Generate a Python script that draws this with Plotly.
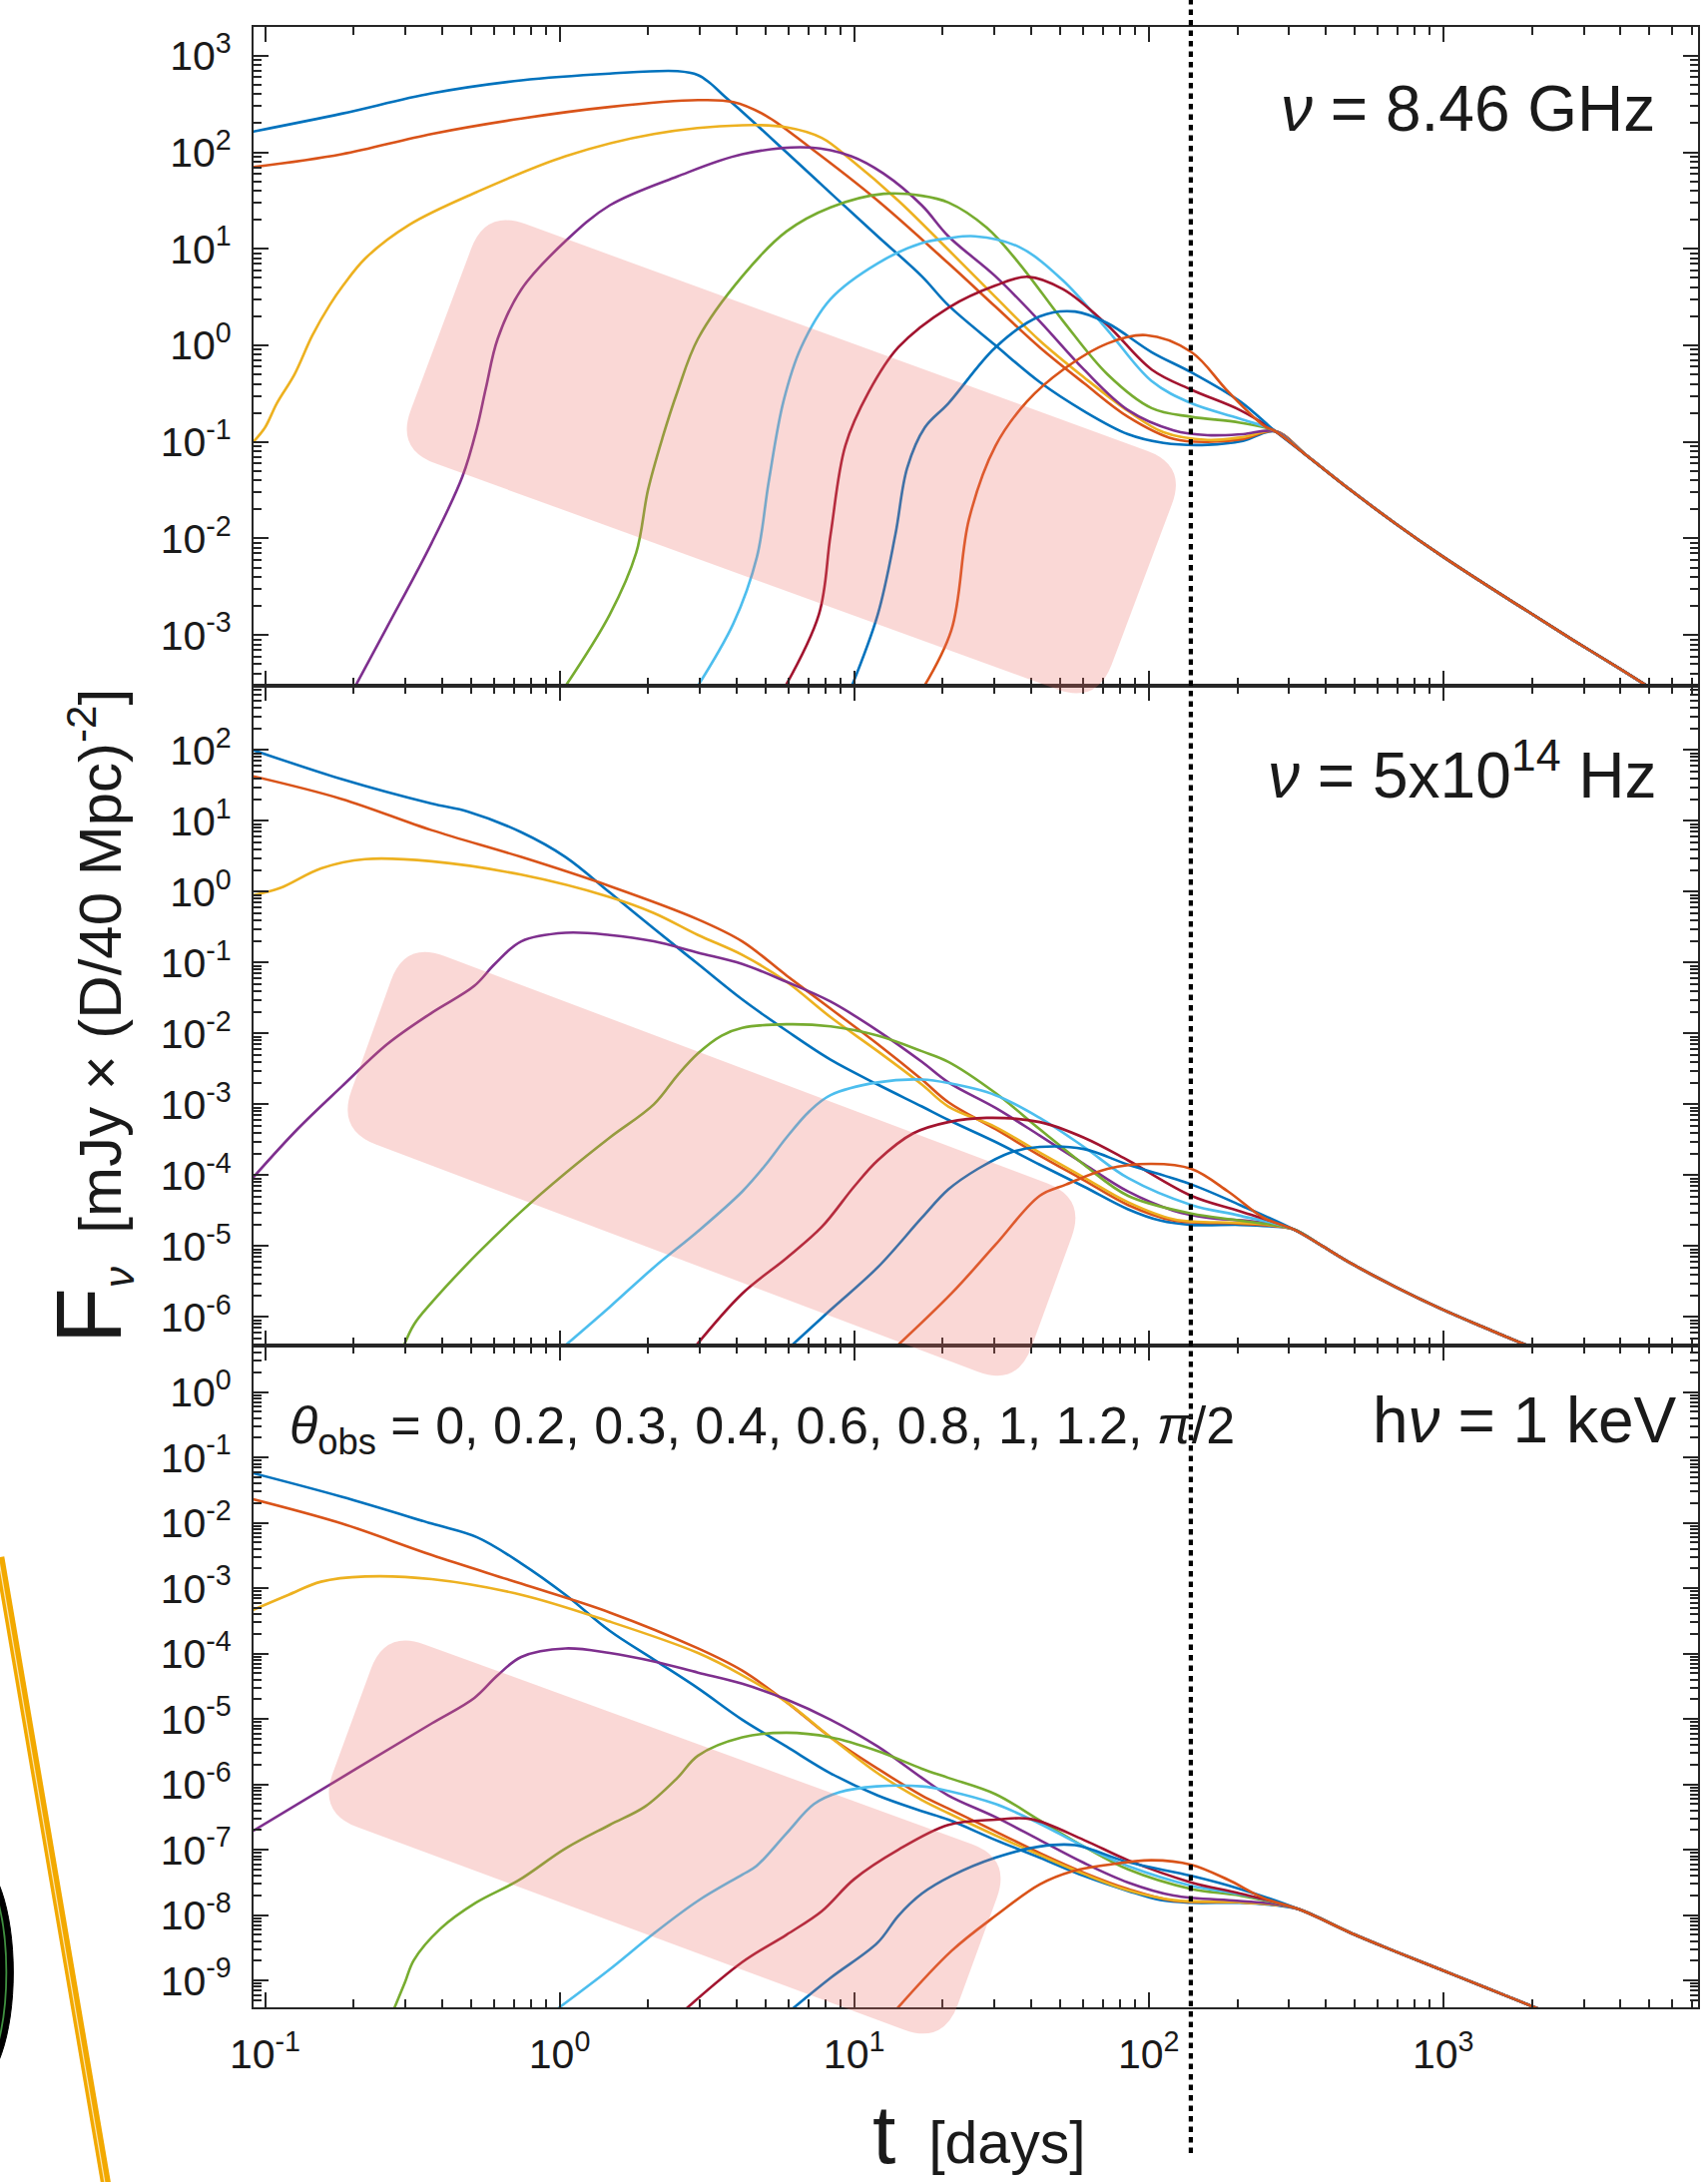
import numpy as np
import plotly.graph_objects as go
from plotly.subplots import make_subplots

# ---------------------------------------------------------------------------
# Observer angles and line colours (MATLAB default colour order, cycling)
# ---------------------------------------------------------------------------
THETA_OBS = ["0", "0.2", "0.3", "0.4", "0.6", "0.8", "1", "1.2", "π/2"]
LINE_COLORS = ["#0072BD", "#D95319", "#EDB120", "#7E2F8E", "#77AC30",
               "#4DBEEE", "#A2142F", "#0072BD", "#D95319"]

# ---------------------------------------------------------------------------
# Light curves, points are (log10 t [days], log10 F_nu [mJy (D/40 Mpc)^-2])
# ---------------------------------------------------------------------------
# nu = 8.46 GHz
RADIO_TH0 = [(-1.04, 2.215), (-0.74, 2.40), (-0.435, 2.61), (-0.13, 2.745), (0.17, 2.815),
             (0.40, 2.84), (0.47, 2.80), (0.51, 2.72), (0.56, 2.58), (0.62, 2.42), (0.77, 2.0),
             (0.93, 1.55), (1.08, 1.13), (1.23, 0.715), (1.32, 0.415), (1.48, 0.0),
             (1.63, -0.38), (1.78, -0.68), (1.93, -0.92), (2.05, -1.01), (2.2, -1.03), (2.32, -0.99)]
RADIO_TH1 = [(-1.04, 1.846), (-0.74, 1.98), (-0.435, 2.19), (-0.13, 2.35), (0.17, 2.47),
             (0.47, 2.54), (0.59, 2.52), (0.70, 2.38), (0.85, 2.05), (1.08, 1.5), (1.32, 0.85),
             (1.48, 0.4), (1.63, -0.02), (1.78, -0.39), (1.93, -0.74), (2.085, -0.97),
             (2.2, -1.0), (2.32, -0.97)]
RADIO_TH2 = [(-1.04, -1.0), (-1.0, -0.85), (-0.96, -0.6), (-0.90, -0.3), (-0.84, 0.1),
             (-0.78, 0.42), (-0.735, 0.62), (-0.66, 0.9), (-0.51, 1.25), (-0.28, 1.59),
             (0.02, 1.96), (0.32, 2.19), (0.62, 2.28), (0.77, 2.26), (0.89, 2.15), (0.99, 1.92),
             (1.15, 1.5), (1.32, 0.99), (1.48, 0.5), (1.63, 0.05), (1.78, -0.33), (1.93, -0.68),
             (2.05, -0.9), (2.2, -0.98), (2.32, -0.95)]
RADIO_TH3 = [(-0.72, -3.68), (-0.586, -2.92), (-0.435, -2.05), (-0.33, -1.36), (-0.28, -0.85),
             (-0.25, -0.44), (-0.21, 0.07), (-0.13, 0.58), (0.02, 1.08), (0.17, 1.45),
             (0.40, 1.75), (0.62, 1.98), (0.85, 2.05), (0.99, 1.96), (1.10, 1.78), (1.23, 1.45),
             (1.32, 1.13), (1.48, 0.715), (1.63, 0.25), (1.78, -0.25), (1.93, -0.67),
             (2.085, -0.88), (2.2, -0.93), (2.32, -0.92)]
RADIO_TH4 = [(0.0, -3.62), (0.17, -2.79), (0.26, -2.15), (0.30, -1.5), (0.35, -0.95),
             (0.40, -0.48), (0.47, 0.07), (0.62, 0.715), (0.77, 1.18), (0.92, 1.43), (1.10, 1.57),
             (1.23, 1.55), (1.32, 1.48), (1.45, 1.22), (1.56, 0.85), (1.71, 0.25), (1.86, -0.3),
             (2.01, -0.65), (2.145, -0.74), (2.31, -0.80)]
RADIO_TH5 = [(0.45, -3.62), (0.59, -2.88), (0.67, -2.19), (0.71, -1.41), (0.76, -0.58),
             (0.82, -0.02), (0.92, 0.48), (1.08, 0.85), (1.23, 1.06), (1.32, 1.11), (1.41, 1.13),
             (1.56, 1.02), (1.71, 0.67), (1.86, 0.16), (2.01, -0.37), (2.145, -0.6), (2.31, -0.76)]
RADIO_TH6 = [(0.75, -3.62), (0.88, -2.79), (0.92, -1.96), (0.97, -1.04), (1.05, -0.48),
             (1.15, -0.02), (1.32, 0.39), (1.48, 0.62), (1.59, 0.71), (1.71, 0.58), (1.86, 0.21),
             (2.01, -0.25), (2.145, -0.46), (2.31, -0.67)]
RADIO_TH7 = [(0.98, -3.62), (1.08, -2.79), (1.14, -1.96), (1.18, -1.27), (1.24, -0.85),
             (1.32, -0.6), (1.48, -0.02), (1.63, 0.3), (1.75, 0.35), (1.86, 0.23), (2.01, -0.07),
             (2.145, -0.28), (2.31, -0.58)]
RADIO_TH8 = [(1.22, -3.62), (1.33, -2.95), (1.39, -1.8), (1.48, -1.04), (1.587, -0.58),
             (1.71, -0.25), (1.86, 0.02), (1.99, 0.106), (2.145, -0.07), (2.27, -0.48), (2.39, -0.83)]
RADIO_TAIL = [(2.43, -0.89), (2.54, -1.15), (2.69, -1.51), (2.84, -1.85), (2.99, -2.17),
              (3.14, -2.47), (3.29, -2.76), (3.44, -3.05), (3.595, -3.34), (3.72, -3.58)]

# nu = 5x10^14 Hz
OPT_TH0 = [(-1.04, 2.0), (-0.74, 1.59), (-0.435, 1.245), (-0.31, 1.13), (-0.13, 0.84),
           (0.02, 0.49), (0.17, -0.01), (0.32, -0.52), (0.47, -1.02), (0.62, -1.52),
           (0.77, -1.96), (0.92, -2.37), (1.08, -2.72), (1.23, -3.03), (1.32, -3.22),
           (1.48, -3.53), (1.63, -3.85), (1.78, -4.16), (1.93, -4.48), (2.04, -4.64),
           (2.145, -4.70), (2.31, -4.70), (2.41, -4.72)]
OPT_TH1 = [(-1.04, 1.63), (-0.74, 1.31), (-0.435, 0.87), (-0.13, 0.49), (0.17, 0.08),
           (0.47, -0.39), (0.62, -0.70), (0.77, -1.18), (0.92, -1.65), (1.08, -2.15),
           (1.23, -2.65), (1.32, -2.97), (1.48, -3.35), (1.63, -3.72), (1.78, -4.07),
           (1.93, -4.42), (2.085, -4.64), (2.3, -4.68), (2.41, -4.71)]
OPT_TH2 = [(-1.04, -0.05), (-0.95, 0.05), (-0.81, 0.33), (-0.66, 0.46), (-0.435, 0.43),
           (-0.13, 0.24), (0.17, -0.075), (0.32, -0.30), (0.47, -0.61), (0.62, -0.89),
           (0.77, -1.27), (0.92, -1.77), (1.08, -2.25), (1.23, -2.72), (1.32, -3.03),
           (1.48, -3.32), (1.63, -3.68), (1.78, -4.03), (1.93, -4.38), (2.085, -4.62),
           (2.3, -4.67), (2.41, -4.70)]
OPT_TH3 = [(-1.04, -4.03), (-0.89, -3.35), (-0.74, -2.75), (-0.585, -2.15), (-0.435, -1.71),
           (-0.29, -1.33), (-0.22, -1.02), (-0.13, -0.70), (0.02, -0.58), (0.17, -0.61),
           (0.32, -0.70), (0.47, -0.86), (0.62, -1.02), (0.77, -1.27), (0.92, -1.55),
           (1.08, -1.96), (1.23, -2.40), (1.32, -2.69), (1.48, -3.05), (1.63, -3.44),
           (1.78, -3.84), (1.93, -4.23), (2.085, -4.50), (2.2, -4.60), (2.35, -4.65)]
OPT_TH4 = [(-0.535, -6.47), (-0.495, -6.11), (-0.435, -5.80), (-0.28, -5.11), (-0.13, -4.51),
           (0.02, -3.97), (0.17, -3.47), (0.32, -3.0), (0.40, -2.59), (0.47, -2.28),
           (0.55, -2.03), (0.62, -1.92), (0.77, -1.87), (0.92, -1.90), (1.08, -2.03),
           (1.23, -2.25), (1.32, -2.40), (1.48, -2.84), (1.63, -3.35), (1.78, -3.85),
           (1.93, -4.29), (2.145, -4.54), (2.31, -4.64)]
OPT_TH5 = [(0.0, -6.47), (0.17, -5.86), (0.32, -5.30), (0.47, -4.79), (0.62, -4.23),
           (0.70, -3.85), (0.77, -3.47), (0.85, -3.09), (0.92, -2.87), (1.08, -2.69),
           (1.23, -2.65), (1.32, -2.70), (1.48, -2.87), (1.63, -3.19), (1.78, -3.60),
           (1.93, -4.04), (2.145, -4.42), (2.31, -4.57)]
OPT_TH6 = [(0.45, -6.47), (0.62, -5.67), (0.77, -5.17), (0.89, -4.73), (1.0, -4.16),
           (1.08, -3.79), (1.20, -3.41), (1.32, -3.25), (1.45, -3.19), (1.63, -3.25),
           (1.78, -3.47), (1.93, -3.79), (2.145, -4.29), (2.31, -4.51)]
OPT_TH7 = [(0.77, -6.47), (0.92, -5.90), (1.08, -5.30), (1.23, -4.60), (1.32, -4.20),
           (1.42, -3.91), (1.53, -3.68), (1.63, -3.60), (1.78, -3.63), (1.93, -3.85),
           (2.145, -4.13), (2.31, -4.42)]
OPT_TH8 = [(1.13, -6.47), (1.33, -5.67), (1.48, -4.98), (1.63, -4.29), (1.72, -4.13),
           (1.86, -3.91), (2.01, -3.84), (2.145, -3.91), (2.27, -4.23), (2.39, -4.60)]
OPT_TAIL = [(2.49, -4.76), (2.59, -5.00), (2.69, -5.25), (2.84, -5.58), (2.99, -5.88),
            (3.14, -6.15), (3.29, -6.41), (3.36, -6.53)]

# h nu = 1 keV
XRAY_TH0 = [(-1.04, -1.24), (-0.74, -1.60), (-0.435, -2.01), (-0.28, -2.22), (-0.13, -2.62),
            (0.02, -3.10), (0.17, -3.65), (0.32, -4.09), (0.47, -4.53), (0.62, -5.01),
            (0.77, -5.42), (0.92, -5.83), (1.08, -6.17), (1.23, -6.41), (1.32, -6.54),
            (1.48, -6.85), (1.63, -7.12), (1.78, -7.40), (1.93, -7.63), (2.04, -7.77),
            (2.145, -7.81), (2.31, -7.81), (2.43, -7.85)]
XRAY_TH1 = [(-1.04, -1.64), (-0.74, -2.01), (-0.435, -2.49), (-0.13, -2.93), (0.17, -3.37),
            (0.47, -3.92), (0.62, -4.26), (0.77, -4.74), (0.92, -5.28), (1.08, -5.76),
            (1.23, -6.17), (1.32, -6.37), (1.48, -6.72), (1.63, -7.05), (1.78, -7.35),
            (1.93, -7.60), (2.085, -7.78), (2.3, -7.80), (2.43, -7.84)]
XRAY_TH2 = [(-1.04, -3.33), (-0.92, -3.10), (-0.81, -2.90), (-0.66, -2.82), (-0.435, -2.86),
            (-0.13, -3.10), (0.17, -3.51), (0.47, -3.99), (0.62, -4.33), (0.77, -4.74),
            (0.92, -5.28), (1.08, -5.83), (1.23, -6.24), (1.32, -6.44), (1.48, -6.78),
            (1.63, -7.08), (1.78, -7.37), (1.93, -7.62), (2.085, -7.77), (2.3, -7.80),
            (2.43, -7.84)]
XRAY_TH3 = [(-1.04, -6.71), (-0.69, -5.76), (-0.435, -5.07), (-0.29, -4.68), (-0.21, -4.33),
            (-0.13, -4.05), (0.02, -3.92), (0.17, -3.99), (0.32, -4.12), (0.47, -4.29),
            (0.62, -4.46), (0.77, -4.70), (0.92, -5.01), (1.08, -5.42), (1.23, -5.90),
            (1.32, -6.17), (1.48, -6.50), (1.63, -6.85), (1.78, -7.20), (1.93, -7.50),
            (2.085, -7.70), (2.3, -7.78), (2.43, -7.83)]
XRAY_TH4 = [(-0.57, -9.52), (-0.525, -9.03), (-0.495, -8.69), (-0.405, -8.21), (-0.284, -7.81),
            (-0.14, -7.47), (0.02, -6.98), (0.17, -6.62), (0.29, -6.34), (0.40, -5.90),
            (0.47, -5.56), (0.62, -5.28), (0.77, -5.21), (0.92, -5.28), (1.08, -5.49),
            (1.23, -5.76), (1.32, -5.90), (1.48, -6.15), (1.63, -6.55), (1.78, -6.95),
            (1.93, -7.30), (2.145, -7.60), (2.31, -7.70)]
XRAY_TH5 = [(-0.03, -9.51), (0.17, -8.83), (0.32, -8.28), (0.47, -7.78), (0.62, -7.38),
            (0.668, -7.25), (0.77, -6.75), (0.864, -6.30), (0.95, -6.12), (1.076, -6.03),
            (1.23, -6.03), (1.32, -6.10), (1.48, -6.30), (1.63, -6.60), (1.78, -6.95),
            (1.93, -7.25), (2.145, -7.55), (2.31, -7.68)]
XRAY_TH6 = [(0.41, -9.51), (0.62, -8.72), (0.77, -8.30), (0.89, -7.94), (1.0, -7.45),
            (1.15, -7.0), (1.32, -6.62), (1.48, -6.54), (1.60, -6.53), (1.78, -6.85),
            (1.93, -7.16), (2.145, -7.50), (2.31, -7.67)]
XRAY_TH7 = [(0.77, -9.51), (0.92, -8.96), (1.08, -8.42), (1.15, -8.01), (1.23, -7.67),
            (1.33, -7.40), (1.48, -7.12), (1.63, -6.95), (1.75, -6.93), (1.93, -7.19),
            (2.145, -7.40), (2.31, -7.60)]
XRAY_TH8 = [(1.13, -9.51), (1.33, -8.55), (1.48, -8.01), (1.63, -7.53), (1.74, -7.33),
            (1.86, -7.23), (2.01, -7.16), (2.145, -7.23), (2.27, -7.46), (2.39, -7.74)]
XRAY_TAIL = [(2.51, -7.91), (2.69, -8.28), (2.84, -8.56), (2.99, -8.83), (3.14, -9.10),
             (3.31, -9.41), (3.38, -9.53)]

# Epoch marked by the dotted vertical line [days]
MARK_DAY = 139.0

# Panel labels
RADIO_LABEL = "<i>ν</i> = 8.46 GHz"
OPT_LABEL = "<i>ν</i> = 5x10<sup>14</sup> Hz"
XRAY_LABEL = "h<i>ν</i> = 1 keV"
THETA_LABEL = "<i>θ</i><sub>obs</sub> = " + ", ".join(THETA_OBS[:-1]) + ", <i>π</i>/2"

# ---------------------------------------------------------------------------
# Figure geometry (pixels)
# ---------------------------------------------------------------------------
W, H = 1711, 2186
ML, MR, MT, MB = 254, 8, 27, 175
PW, PH = W - ML - MR, H - MT - MB
ROW_EDGES = [27, 687, 1348, 2011]          # frame rows of the three stacked panels


def paper_x(px):
    return (px - ML) / PW


def paper_y(py):
    return (H - MB - py) / PH


X_RANGE = [-1.039, 3.865]
PANELS = [
    dict(curves=[RADIO_TH0, RADIO_TH1, RADIO_TH2, RADIO_TH3, RADIO_TH4,
                 RADIO_TH5, RADIO_TH6, RADIO_TH7, RADIO_TH8],
         tail=RADIO_TAIL, yrange=[-3.525, 3.298], decades=(-3, 3)),
    dict(curves=[OPT_TH0, OPT_TH1, OPT_TH2, OPT_TH3, OPT_TH4,
                 OPT_TH5, OPT_TH6, OPT_TH7, OPT_TH8],
         tail=OPT_TAIL, yrange=[-6.403, 2.907], decades=(-6, 2)),
    dict(curves=[XRAY_TH0, XRAY_TH1, XRAY_TH2, XRAY_TH3, XRAY_TH4,
                 XRAY_TH5, XRAY_TH6, XRAY_TH7, XRAY_TH8],
         tail=XRAY_TAIL, yrange=[-9.41, 0.713], decades=(-9, 0)),
]

fig = make_subplots(rows=3, cols=1, vertical_spacing=0)

for r, panel in enumerate(PANELS, start=1):
    for i, pts in enumerate(panel["curves"]):
        last = pts[-1][0]
        seq = list(pts) + [p for p in panel["tail"] if p[0] > last]
        fig.add_trace(go.Scatter(
            x=[10.0 ** a for a, _ in seq], y=[10.0 ** b for _, b in seq],
            mode="lines", name="θ = " + THETA_OBS[i],
            line=dict(color=LINE_COLORS[i], width=2.6, shape="spline", smoothing=1.0),
            showlegend=False, hoverinfo="skip"), row=r, col=1)

AX_COLOR = "#262626"
TICK_FONT = dict(family="Liberation Sans, Arial, sans-serif", size=41, color="#1a1a1a")


def minor_vals(lo, hi):
    return [m * 10.0 ** k for k in range(lo, hi + 1) for m in range(2, 10)]


def axis_common():
    return dict(type="log", showgrid=False, zeroline=False, showline=True,
                linecolor=AX_COLOR, linewidth=2, mirror="allticks",
                ticks="inside", ticklen=15, tickwidth=2.2, tickcolor=AX_COLOR,
                tickfont=TICK_FONT)


for r, panel in enumerate(PANELS, start=1):
    lo, hi = panel["decades"]
    top, bot = ROW_EDGES[r - 1], ROW_EDGES[r]
    yax = axis_common()
    yax.update(range=panel["yrange"], domain=[paper_y(bot), paper_y(top)],
               tickmode="array", tickvals=[10.0 ** k for k in range(lo, hi + 1)],
               ticktext=[f"10<sup>{k}</sup>" for k in range(lo, hi + 1)],
               ticklabelstandoff=12,
               minor=dict(tickmode="array", tickvals=minor_vals(lo - 1, hi + 1),
                          ticks="inside", ticklen=8, tickwidth=1.8, tickcolor=AX_COLOR))
    fig.update_yaxes(row=r, col=1, **yax)

    xax = axis_common()
    xax.update(range=X_RANGE, tickmode="array",
               tickvals=[10.0 ** k for k in range(-1, 4)],
               ticktext=[f"10<sup>{k}</sup>" for k in range(-1, 4)],
               showticklabels=(r == 3), ticklabelstandoff=10,
               minor=dict(tickmode="array", tickvals=minor_vals(-2, 4),
                          ticks="inside", ticklen=8, tickwidth=1.8, tickcolor=AX_COLOR))
    fig.update_xaxes(row=r, col=1, **xax)

# ---------------------------------------------------------------------------
# Overlays: highlighted bands, marker line and decorations
# ---------------------------------------------------------------------------


def rounded_path(corners, rad):
    pts = [np.array(c, dtype=float) for c in corners]
    n = len(pts)
    parts = []
    for i in range(n):
        p0, p1, p2 = pts[i - 1], pts[i], pts[(i + 1) % n]
        a = p1 + (p0 - p1) / np.linalg.norm(p0 - p1) * rad
        b = p1 + (p2 - p1) / np.linalg.norm(p2 - p1) * rad
        cmd = "M" if i == 0 else "L"
        parts.append(f"{cmd}{paper_x(a[0]):.5f},{paper_y(a[1]):.5f} "
                     f"Q{paper_x(p1[0]):.5f},{paper_y(p1[1]):.5f} "
                     f"{paper_x(b[0]):.5f},{paper_y(b[1]):.5f}")
    return " ".join(parts) + " Z"


BANDS = [
    [(487, 210), (1190, 466), (1100, 705), (397, 450)],
    [(406, 943), (1089, 1200), (1020, 1389), (338, 1132)],
    [(386, 1633), (1014, 1862), (946, 2048), (319, 1816)],
]
for corners in BANDS:
    fig.add_shape(type="path", xref="paper", yref="paper", path=rounded_path(corners, 42),
                  fillcolor="rgba(235,110,105,0.27)", line=dict(width=0), layer="above")

fig.add_shape(type="line", xref="x", yref="paper", x0=MARK_DAY, x1=MARK_DAY,
              y0=paper_y(2157), y1=paper_y(0),
              line=dict(color="black", width=4.2, dash="5.5px,5px"), layer="above")

# slide decoration at the lower left edge
fig.add_shape(type="line", xref="paper", yref="paper",
              x0=paper_x(-1), y0=paper_y(1560), x1=paper_x(108), y1=paper_y(2200),
              line=dict(color="#F2A900", width=10), layer="above")
fig.add_shape(type="line", xref="paper", yref="paper",
              x0=paper_x(-2), y0=paper_y(1560), x1=paper_x(107), y1=paper_y(2200),
              line=dict(color="rgba(255,255,255,0.7)", width=1.2), layer="above")
fig.add_shape(type="circle", xref="paper", yref="paper",
              x0=paper_x(-67), x1=paper_x(13), y0=paper_y(1976 + 115), y1=paper_y(1976 - 115),
              fillcolor="black", line=dict(color="black", width=1), layer="above")
fig.add_shape(type="circle", xref="paper", yref="paper",
              x0=paper_x(-60), x1=paper_x(6), y0=paper_y(1976 + 107), y1=paper_y(1976 - 107),
              fillcolor="rgba(0,0,0,0)", line=dict(color="#3f8f3f", width=1.8), layer="above")

# ---------------------------------------------------------------------------
# Text
# ---------------------------------------------------------------------------
TXT = dict(family="Liberation Sans, Arial, sans-serif", color="#1a1a1a")
ann = [
    dict(text=RADIO_LABEL, x=paper_x(1662), y=paper_y(109), xanchor="right", yanchor="middle",
         font=dict(size=64, **TXT)),
    dict(text=OPT_LABEL, x=paper_x(1664), y=paper_y(772), xanchor="right", yanchor="middle",
         font=dict(size=64, **TXT)),
    dict(text=XRAY_LABEL, x=paper_x(1684), y=paper_y(1423), xanchor="right", yanchor="middle",
         font=dict(size=64, **TXT)),
    dict(text=THETA_LABEL, x=paper_x(288), y=paper_y(1432), xanchor="left", yanchor="middle",
         font=dict(size=52, **TXT)),
    dict(text='<span style="font-size:92px">F</span><sub><i>ν</i></sub>\u00a0\u00a0'
              '[mJy × (D/40 Mpc)<sup>-2</sup>]',
         x=paper_x(90), y=paper_y(1018), xanchor="center", yanchor="middle", textangle=-90,
         font=dict(size=60, **TXT)),
    dict(text='<span style="font-size:84px">t</span>\u00a0\u00a0[days]',
         x=paper_x(982), y=paper_y(2138), xanchor="center", yanchor="middle",
         font=dict(size=59, **TXT)),
]
for a in ann:
    a.update(xref="paper", yref="paper", showarrow=False)

fig.update_layout(width=W, height=H, margin=dict(l=ML, r=MR, t=MT, b=MB),
                  paper_bgcolor="white", plot_bgcolor="white", showlegend=False,
                  annotations=ann,
                  font=dict(family="Liberation Sans, Arial, sans-serif", color="#1a1a1a"))

fig.write_html("out.html")
